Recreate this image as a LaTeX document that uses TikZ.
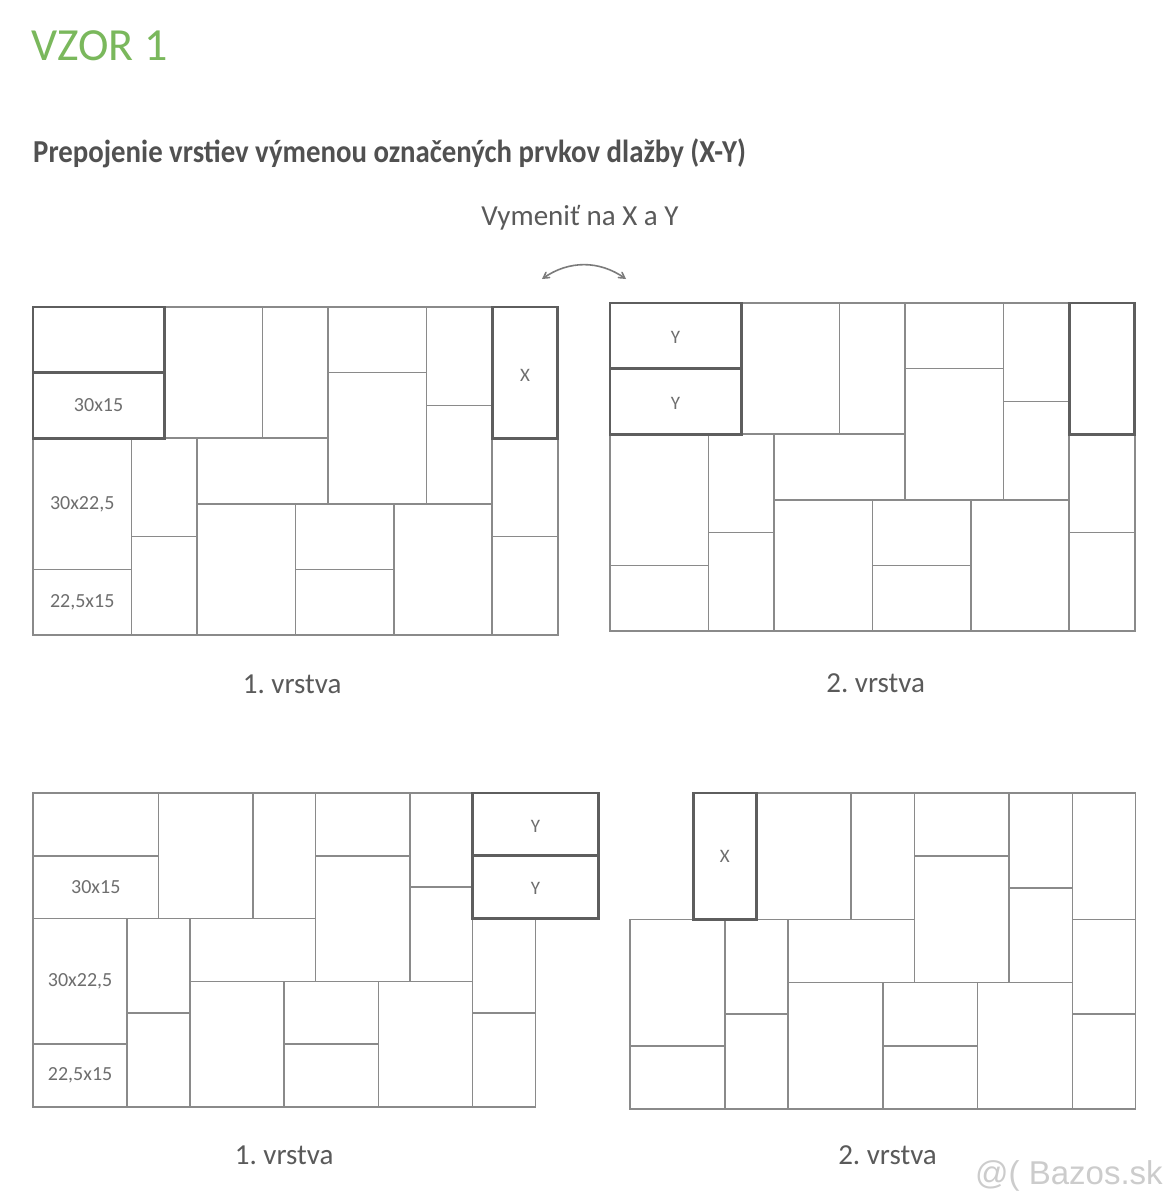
\documentclass[tikz,border=0pt]{standalone}
\usepackage{graphicx}
\usepackage{fontspec}
\setmainfont{Carlito}
\newfontfamily\wmfont{Liberation Sans}
\usetikzlibrary{arrows}
\frenchspacing

\definecolor{tilegray}{HTML}{8A8A8A}
\definecolor{markgray}{HTML}{5E5E5E}
\definecolor{textgray}{HTML}{5A5A5A}
\definecolor{labelgray}{HTML}{6E6E6E}
\definecolor{titlegreen}{HTML}{7AB85C}

\tikzset{
	tile/.style={draw=tilegray, line width=1.7pt},
	marked/.style={draw=markgray, line width=2.8pt},
	size/.style={text=labelgray, font=\fontsize{20}{22}\selectfont},
	xy/.style={text=labelgray, font=\fontsize{19}{21}\selectfont},
	layer/.style={text=textgray, font=\fontsize{29}{34}\selectfont},
	title/.style={text=titlegreen, font=\fontsize{46}{52}\selectfont},
	heading/.style={text=textgray!90!black, font=\bfseries\fontsize{32}{36}\selectfont},
	swaparrow/.style={<->, >=angle 60, draw=textgray!80, line width=1.6pt}
}

% one tile of the pattern
\newcommand{\tile}[5][tile]{\draw[#1] (#2,#3) rectangle (#4,#5);}
% tiles that every layer has
\newcommand{\basetiles}{%
	\tile{4}{0}{7}{4} \tile{7}{0}{9}{4} \tile{9}{0}{12}{2} \tile{9}{2}{12}{6}
	\tile{12}{0}{14}{3} \tile{12}{3}{14}{6} \tile{14}{4}{16}{7} \tile{14}{7}{16}{10}
	\tile{0}{4}{3}{8} \tile{0}{8}{3}{10} \tile{3}{4}{5}{7} \tile{3}{7}{5}{10}
	\tile{5}{4}{9}{6} \tile{5}{6}{8}{10} \tile{8}{6}{11}{8} \tile{8}{8}{11}{10}
	\tile{11}{6}{14}{10}}

\begin{document}
\begin{tikzpicture}[x=1pt, y=-1pt]
	\fill[white] (0,0) rectangle (1173,1200);
	\useasboundingbox (0,0) rectangle (1173,1200);
	
	\node[title, anchor=base west, inner sep=0] (title) at (31,60) {VZOR 1};
	\node[heading, anchor=base west, inner sep=0] (heading) at (33,162)
		{\scalebox{0.9}[1]{Prepojenie vrstiev výmenou označených prvkov dlažby (X-Y)}};
	\node[layer, anchor=base, inner sep=0] (hint) at (580,225) {Vymeniť na X a Y};
	\coordinate (swl) at (542,279);
	\coordinate (swr) at (626,279);
	\draw[swaparrow] (swl) to[bend left=35] (swr);
	
	% 1. vrstva, top
	\begin{scope}[shift={(33,307)}, x=32.8pt, y=-32.8pt]
		\basetiles
		\tile[marked]{0}{0}{4}{2} \tile[marked]{0}{2}{4}{4} \tile[marked]{14}{0}{16}{4}
		\node[size] (tl-b) at (2,3) {30x15};
		\node[size] (tl-l) at (1.5,6) {30x22,5};
		\node[size] (tl-m) at (1.5,9) {22,5x15};
		\node[xy] (tl-x) at (15,2.1) {X};
		\node[layer] (tl-name) at (7.9,11.5) {1. vrstva};
	\end{scope}
	
	% 2. vrstva, top
	\begin{scope}[shift={(610,303)}, x=32.8pt, y=-32.8pt]
		\basetiles
		\tile[marked]{0}{0}{4}{2} \tile[marked]{0}{2}{4}{4} \tile[marked]{14}{0}{16}{4}
		\node[xy] (tr-y1) at (2,1.05) {Y};
		\node[xy] (tr-y2) at (2,3.05) {Y};
		\node[layer] (tr-name) at (8.1,11.6) {2. vrstva};
	\end{scope}
	
	% 1. vrstva, bottom
	\begin{scope}[shift={(33,793)}, x=31.4pt, y=-31.4pt]
		\basetiles
		\tile{0}{0}{4}{2} \tile{0}{2}{4}{4}
		\tile[marked]{14}{0}{18}{2} \tile[marked]{14}{2}{18}{4}
		\node[size] (bl-b) at (2,3) {30x15};
		\node[size] (bl-l) at (1.5,6) {30x22,5};
		\node[size] (bl-m) at (1.5,9) {22,5x15};
		\node[xy] (bl-y1) at (16,1.05) {Y};
		\node[xy] (bl-y2) at (16,3.05) {Y};
		\node[layer] (bl-name) at (8,11.55) {1. vrstva};
	\end{scope}
	
	% 2. vrstva, bottom
	\begin{scope}[shift={(630,793)}, x=31.6pt, y=-31.6pt]
		\basetiles
		\tile{14}{0}{16}{4}
		\tile[marked]{2}{0}{4}{4}
		\node[xy] (br-x) at (3,2) {X};
		\node[layer] (br-name) at (8.15,11.45) {2. vrstva};
	\end{scope}
	
	\node[text=black!20, font=\wmfont\fontsize{33}{36}\selectfont, anchor=base west, inner sep=0]
		(bazos) at (975,1184) {@( Bazos.sk};
\end{tikzpicture}
\end{document}
